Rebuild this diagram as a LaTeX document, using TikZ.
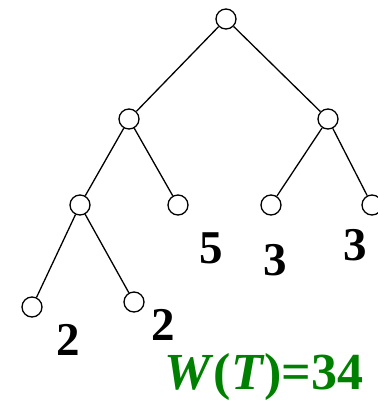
\documentclass[tikz,border=0pt]{standalone}
\usepackage{fontspec}
\setmainfont{Liberation Serif}
\usepackage{tikz}
\tikzset{vtx/.style={draw, circle, minimum size=20pt, inner sep=0pt, line width=1.3pt},
  wt/.style={font=\fontsize{47}{47}\selectfont\bfseries}}
\definecolor{wgreen}{RGB}{0,128,0}

\begin{document}
\begin{tikzpicture}[x=1pt, y=-1pt, line width=1.3pt]
 \useasboundingbox (0,0) rectangle (378,400);
 \node[vtx] (root) at (226, 19) {};
 \node[vtx] (l)    at (129, 119) {};
 \node[vtx] (r)    at (328, 119) {};
 \node[vtx] (ll)   at (80, 205) {};
 \node[vtx] (lr)   at (178, 205) {};
 \node[vtx] (rl)   at (271, 205) {};
 \node[vtx] (rr)   at (372, 205) {};
 \node[vtx] (lll)  at (32, 307) {};
 \node[vtx] (llr)  at (134, 302) {};

 \draw (root) to (l);
 \draw (root) to (r);
 \draw (l) to (ll);
 \draw (l) to (lr);
 \draw (r) to (rl);
 \draw (r) to (rr);
 \draw (ll) to (lll);
 \draw (ll) to (llr);

 \node[wt] (wlr)  at (211, 248) {5};
 \node[wt] (wrl)  at (275, 260) {3};
 \node[wt] (wrr)  at (355, 245) {3};
 \node[wt] (wlll) at (68, 340) {2};
 \node[wt] (wllr) at (163, 325) {2};

 \node[font=\fontsize{52}{52}\selectfont\bfseries, text=wgreen] (sum) at (264, 377)
   {\textit{W}(\textit{T})=34};
\end{tikzpicture}
\end{document}
